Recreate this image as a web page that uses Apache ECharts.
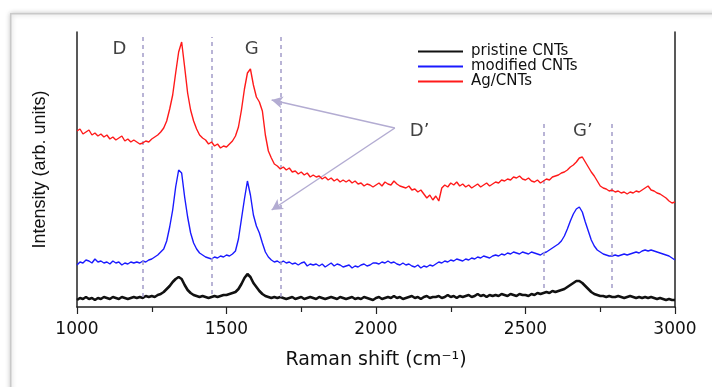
<!DOCTYPE html>
<html>
<head>
<meta charset="utf-8">
<script src="https://cdn.jsdelivr.net/npm/echarts@6/dist/echarts.min.js"></script>
<style>
  html, body { margin: 0; padding: 0; background: #ffffff; }
  #chart { width: 712px; height: 387px; }
</style>
</head>
<body>
<div id="chart"></div>
<script>
// Raman shift grid: 1000..3000 cm-1 sampled every 10 cm-1
const shiftStart = 1000;
const shiftStep = 10;

const pristine = [
  7, 9, 8, 10, 8, 9, 7, 9, 8, 10,
  9, 8, 10, 9, 8, 10, 9, 8, 9, 10,
  9, 10, 9, 11, 10, 11, 10, 12, 13, 15,
  18, 21, 25, 28, 30, 28, 22, 17, 14, 12,
  11, 10, 11, 10, 9, 10, 11, 10, 11, 12,
  12, 13, 14, 15, 18, 23, 29, 33, 30, 24,
  20, 16, 13, 11, 10, 9, 10, 9, 10, 9,
  8, 9, 10, 8, 9, 10, 8, 9, 10, 9,
  8, 10, 9, 8, 9, 10, 9, 8, 10, 9,
  8, 9, 10, 8, 9, 8, 10, 9, 8, 7,
  9, 10, 8, 9, 10, 9, 11, 9, 10, 8,
  9, 10, 11, 9, 10, 8, 10, 11, 9, 10,
  10, 11, 9, 10, 12, 10, 11, 9, 11, 10,
  11, 12, 10, 11, 13, 11, 12, 10, 12, 11,
  12, 11, 13, 12, 11, 13, 12, 11, 13, 12,
  12, 11, 13, 12, 14, 13, 14, 15, 14, 16,
  15, 16, 17, 18, 20, 22, 24, 26, 26, 24,
  21, 18, 15, 13, 12, 11, 11, 10, 11, 10,
  10, 11, 10, 9, 10, 11, 10, 9, 10, 9,
  10, 9, 10, 9, 8, 9, 8, 7, 8, 7,
  7
];

const modified = [
  42, 45, 44, 47, 46, 44, 48, 45, 46, 44,
  45, 43, 46, 44, 45, 42, 44, 43, 45, 44,
  45, 44, 46, 45, 47, 48, 50, 52, 55, 58,
  66, 80, 97, 120, 137, 134, 110, 90, 74, 64,
  58, 54, 52, 50, 49, 48, 50, 49, 51, 50,
  52, 51, 53, 56, 68, 88, 108, 126, 112, 92,
  81, 74, 64, 55, 50, 47, 45, 46, 44, 46,
  44, 45, 43, 44, 42, 44, 45, 41, 43, 42,
  43, 41, 43, 40, 42, 44, 41, 43, 42, 40,
  41, 42, 39, 41, 40, 42, 43, 41, 42, 44,
  44, 43, 45, 44, 46, 44, 45, 43, 42, 44,
  42, 43, 41, 40, 42, 39, 41, 40, 42, 41,
  43, 45, 44, 46, 45, 47, 46, 48, 47, 46,
  48, 47, 49, 48, 50, 49, 51, 50, 49, 51,
  52, 51, 53, 52, 54, 53, 55, 54, 53, 55,
  54, 53, 55, 54, 53, 52, 54, 55, 57, 59,
  61, 63, 66, 71, 78, 86, 93, 98, 100, 95,
  85, 76, 67, 61, 57, 55, 53, 52, 51, 51,
  52, 51, 52, 53, 52, 53, 54, 55, 54, 56,
  57, 56, 57, 56, 55, 54, 53, 52, 51, 49,
  47
];

const agCnts = [
  176, 178, 173, 175, 177, 172, 174, 171, 173, 170,
  172, 168, 170, 167, 169, 171, 166, 168, 165, 167,
  165, 163, 164, 166, 165, 168, 170, 172, 175, 179,
  186, 198, 212, 234, 255, 265, 240, 214, 197, 186,
  178, 172, 169, 167, 163, 165, 161, 163, 159, 161,
  160, 163, 166, 171, 180, 197, 218, 234, 238, 222,
  210, 205, 196, 172, 156, 149, 143, 141, 138, 140,
  137, 139, 135, 136, 133, 135, 132, 134, 130, 132,
  130, 131, 128, 130, 127, 129, 126, 128, 125, 127,
  125, 127, 124, 126, 123, 124, 121, 123, 122, 120,
  122, 124, 121, 125, 123, 122, 126, 123, 121, 120,
  119, 121, 117, 118, 115, 117, 113, 109, 112, 107,
  111, 106, 119, 122, 120, 124, 122, 125, 121, 123,
  120, 122, 119, 121, 123, 120, 122, 124, 121, 123,
  125, 124, 127, 126, 128, 127, 130, 129, 131, 128,
  127, 129, 126, 125, 127, 124, 126, 128, 127, 130,
  131, 132, 134, 135, 137, 140, 142, 145, 149, 150,
  145, 140, 135, 131, 126, 121, 119, 118, 116, 117,
  115, 116, 114, 115, 113, 115, 114, 116, 115, 117,
  119, 121, 117, 116, 114, 113, 111, 109, 106, 104,
  105
];

const seriesNames = ['pristine CNTs', 'modified CNTs', 'Ag/CNTs'];
const seriesColors = ['#111111', '#1a1aff', '#ff1a1a'];

// band guides (cm-1) and their vertical extent in arb. units
const guideX = [1220, 1450, 1680, 2560, 2790];
const guideTop = [270, 270, 270, 187, 187];
const guideBottom = [10, 13, 10, 19, 19];

// peak labels
const peakLabels = ['D', 'G', 'D\u2019', 'G\u2019'];
const peakLabelX = [1142, 1584, 2146, 2692];
const peakLabelY = [258, 258, 176, 176];

// D' arrows: shared tail, two heads
const arrowTail = [2063, 179];
const arrowHeads = [[1651, 207], [1651, 97]];

function toPairs(values) {
  return values.map((v, i) => [shiftStart + i * shiftStep, v]);
}

const chart = echarts.init(document.getElementById('chart'), null, { renderer: 'canvas' });

const spectra = [pristine, modified, agCnts].map((values, i) => ({
  type: 'line',
  name: seriesNames[i],
  data: toPairs(values),
  symbol: 'none',
  smooth: false,
  lineStyle: { color: seriesColors[i], width: i === 0 ? 2.6 : 1.4 },
  itemStyle: { color: seriesColors[i] },
  z: 3 + i,
}));

spectra[2].markLine = {
  silent: true,
  symbol: 'none',
  animation: false,
  label: { show: false },
  lineStyle: { color: '#a39cc9', type: [4, 4], width: 1.5 },
  data: guideX.map((x, i) => [
    { coord: [x, guideBottom[i]] },
    { coord: [x, guideTop[i]] },
  ]),
};

const arrowSeries = {
  type: 'line',
  name: 'arrows',
  data: [],
  silent: true,
  markLine: {
    silent: true,
    animation: false,
    symbol: ['none', 'arrow'],
    symbolSize: [9, 11],
    label: { show: false },
    lineStyle: { color: '#b3acd2', type: 'solid', width: 1.5 },
    data: arrowHeads.map(h => [{ coord: arrowTail }, { coord: h }]),
  },
};

const labelSeries = {
  type: 'scatter',
  name: 'labels',
  silent: true,
  symbolSize: 0,
  data: peakLabels.map((t, i) => ({ name: t, value: [peakLabelX[i], peakLabelY[i]] })),
  label: {
    show: true,
    position: 'inside',
    formatter: '{b}',
    color: '#111',
    fontFamily: 'DejaVu Sans',
    fontSize: 18,
  },
  z: 10,
};

chart.setOption({
  animation: false,
  backgroundColor: '#ffffff',
  graphic: [{
    type: 'rect',
    left: 10,
    top: 13,
    shape: { width: 740, height: 420 },
    style: {
      fill: '#ffffff',
      stroke: '#c9c9c9',
      lineWidth: 1.5,
      shadowBlur: 5,
      shadowColor: 'rgba(0,0,0,0.25)',
    },
    z: -10,
    silent: true,
  }],
  grid: { left: 77, right: 37, top: 32, bottom: 80 },
  legend: {
    data: seriesNames,
    orient: 'vertical',
    left: 418,
    top: 44,
    padding: 0,
    icon: 'rect',
    itemWidth: 45,
    itemHeight: 2,
    itemGap: 0,
    textStyle: {
      fontFamily: 'DejaVu Sans',
      fontSize: 15,
      color: '#111',
      padding: [0, 0, 0, 3],
    },
  },
  xAxis: {
    type: 'value',
    min: 1000,
    max: 3000,
    interval: 500,
    name: 'Raman shift (cm\u207B\u00B9)',
    nameLocation: 'middle',
    nameGap: 44,
    nameTextStyle: { fontFamily: 'DejaVu Sans', fontSize: 19, color: '#111' },
    axisLine: { show: true, onZero: false, lineStyle: { color: '#222', width: 1.5 } },
    axisTick: { show: true, inside: false, length: 7, lineStyle: { color: '#222', width: 1.2 } },
    minorTick: { show: true, splitNumber: 2, length: 5, lineStyle: { color: '#222', width: 1.2 } },
    axisLabel: {
      fontFamily: 'DejaVu Sans',
      fontSize: 17,
      color: '#111',
      margin: 14,
      formatter: v => String(v),
    },
    splitLine: { show: false },
  },
  yAxis: [{
    type: 'value',
    min: 0,
    max: 275,
    name: 'Intensity (arb. units)',
    nameLocation: 'middle',
    nameGap: 28,
    nameTextStyle: { fontFamily: 'Liberation Sans', fontSize: 18, color: '#111' },
    axisLine: { show: true, lineStyle: { color: '#222', width: 1.5 } },
    axisTick: { show: false },
    axisLabel: { show: false },
    splitLine: { show: false },
  }, {
    type: 'value',
    min: 0,
    max: 275,
    position: 'right',
    axisLine: { show: true, lineStyle: { color: '#222', width: 1.5 } },
    axisTick: { show: false },
    axisLabel: { show: false },
    splitLine: { show: false },
  }],
  series: [...spectra, arrowSeries, labelSeries],
});
</script>
</body>
</html>
